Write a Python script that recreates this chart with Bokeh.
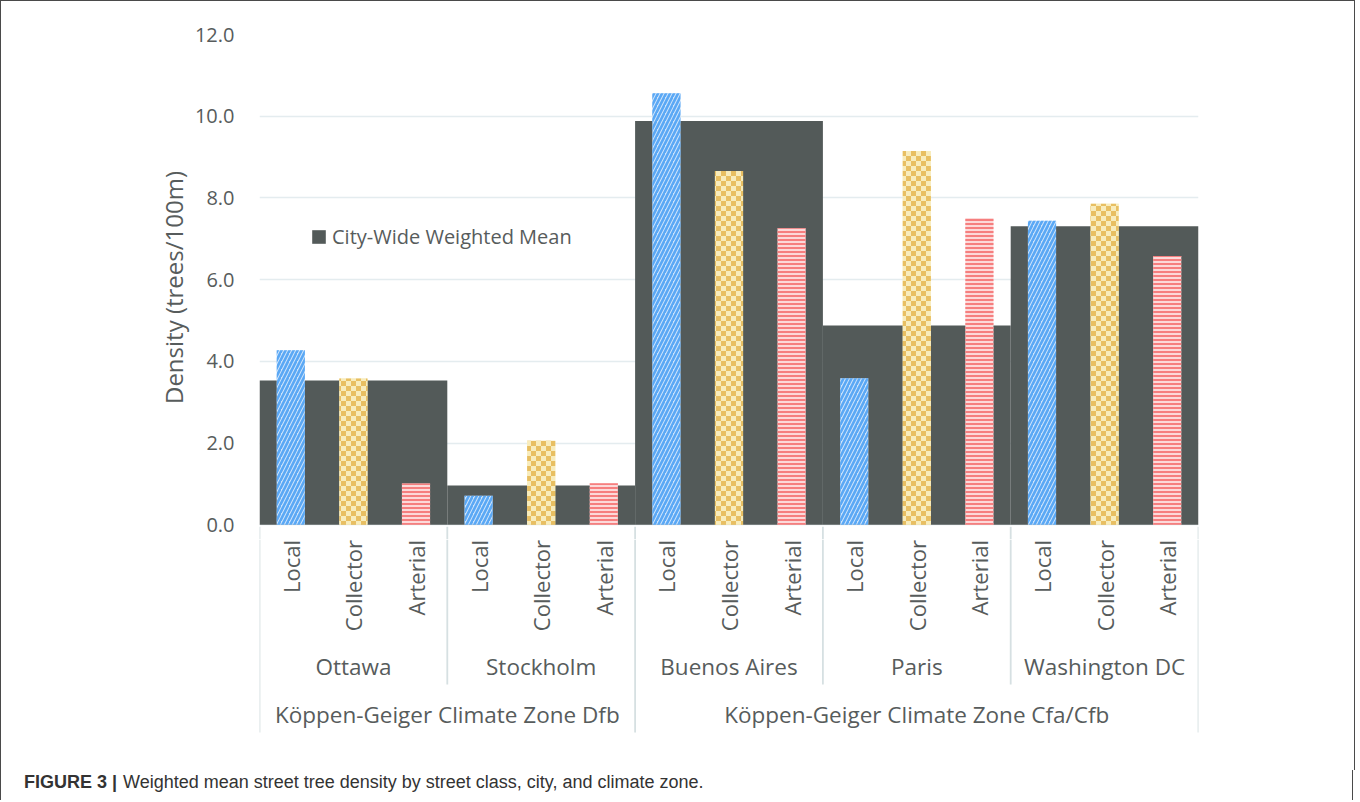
from math import pi
import zlib, struct, base64
from bokeh.plotting import figure
from bokeh.layouts import column
from bokeh.models import (Range1d, FixedTicker, PrintfTickFormatter, Legend, LegendItem,
                          ImageURLTexture, ColumnDataSource, Div)
from bokeh.core.properties import value
from bokeh.embed import file_html
from bokeh.resources import INLINE

# ---------------- data ----------------
zones = ["Köppen-Geiger Climate Zone Dfb", "Köppen-Geiger Climate Zone Cfa/Cfb"]
zone_city_counts = [2, 3]
cities = ["Ottawa", "Stockholm", "Buenos Aires", "Paris", "Washington DC"]
classes = ["Local", "Collector", "Arterial"]
city_mean = [3.53, 0.96, 9.88, 4.88, 7.31]
local = [4.27, 0.71, 10.56, 3.59, 7.44]
collector = [3.58, 2.06, 8.66, 9.15, 7.86]
arterial = [1.01, 1.02, 7.26, 7.51, 6.58]
y_ticks = [0, 2, 4, 6, 8, 10, 12]
legend_label = "City-Wide Weighted Mean"
y_label = "Density (trees/100m)"
caption_bold = "FIGURE 3 |"
caption_text = "Weighted mean street tree density by street class, city, and climate zone."

# ---------------- layout constants ----------------
FONT = "Open Sans"
TXT = "#575c5c"
SEP = "#d6e0e2"
CANVAS_W = 1353
LEFT, FRAME_W = 258, 937
RIGHT = CANVAS_W - LEFT - FRAME_W
TOP, FRAME_H1 = 33, 505
Y_MAX = 12
PX_PER_UNIT = 40.78
Y_MIN = Y_MAX - FRAME_H1 / PX_PER_UNIT
n_cls = len(classes)
n_cat = len(cities) * n_cls
BORDER = "1.5px solid #4a4a4a"

city_x = [c * n_cls + n_cls / 2 for c in range(len(cities))]
city_edges = [c * n_cls for c in range(len(cities) + 1)]
zone_x, zone_edges, acc = [], [0], 0
for cnt in zone_city_counts:
    zone_x.append((acc + cnt / 2) * n_cls)
    acc += cnt
    zone_edges.append(acc * n_cls)
city_only = [e for e in city_edges if e not in zone_edges]


# ---------------- checkerboard texture (style only) ----------------
def checker_png(cell, c_dark, c_light):
    size = 2 * cell
    rows = []
    for yy in range(size):
        row = b""
        for xx in range(size):
            row += bytes(c_dark if ((xx // cell) + (yy // cell)) % 2 == 0 else c_light)
        rows.append(b"\x00" + row)
    raw = b"".join(rows)

    def chunk(t, d):
        return struct.pack(">I", len(d)) + t + d + struct.pack(">I", zlib.crc32(t + d) & 0xffffffff)
    png = (b"\x89PNG\r\n\x1a\n" + chunk(b"IHDR", struct.pack(">IIBBBBB", size, size, 8, 2, 0, 0, 0))
           + chunk(b"IDAT", zlib.compress(raw)) + chunk(b"IEND", b""))
    return "data:image/png;base64," + base64.b64encode(png).decode()


checker = ImageURLTexture(url=checker_png(5, (232, 191, 98), (248, 236, 188)))

# ================= top figure: bars =================
p = figure(frame_width=FRAME_W, frame_height=FRAME_H1,
           x_range=Range1d(0, n_cat), y_range=Range1d(Y_MIN, Y_MAX),
           min_border_left=LEFT, min_border_right=RIGHT,
           min_border_top=TOP, min_border_bottom=0,
           output_backend="svg", toolbar_location=None, x_axis_location=None)
p.outline_line_color = None
p.xgrid.visible = False
p.ygrid.ticker = FixedTicker(ticks=y_ticks)
p.ygrid.grid_line_color = "#e4ecef"
p.ygrid.grid_line_width = 1.5

ya = p.yaxis[0]
ya.ticker = FixedTicker(ticks=y_ticks)
ya.formatter = PrintfTickFormatter(format="%.1f")
ya.axis_line_color = None
ya.major_tick_line_color = None
ya.minor_tick_line_color = None
ya.major_tick_out = 0
ya.major_tick_in = 0
ya.major_label_standoff = 25
ya.major_label_text_font = FONT
ya.major_label_text_font_size = "20px"
ya.major_label_text_color = TXT
ya.axis_label = y_label
ya.axis_label_standoff = 2
ya.axis_label_text_font = FONT
ya.axis_label_text_font_size = "24px"
ya.axis_label_text_font_style = "normal"
ya.axis_label_text_color = TXT

mean_src = ColumnDataSource(dict(x=city_x, top=city_mean))
dark = p.vbar(x="x", top="top", width=n_cls, bottom=0, source=mean_src,
              fill_color="#535a59", line_color=None)

BW = 0.45
for k, (vals, fill, hcol, pat, sc, wt) in enumerate([
        (local, "#cfe4fa", "#5aa8f5", "/", 8, 2.6),
        (collector, "#f8ecbc", "#e8bf62", "checker", 10, 1),
        (arterial, "#fcd9d9", "#f67f7f", "-", 4, 2.0)]):
    xs = [c * n_cls + k + 0.5 for c in range(len(cities))]
    src = ColumnDataSource(dict(x=xs, top=vals))
    kw = {}
    if pat == "checker":
        kw["hatch_extra"] = {"checker": checker}
    p.vbar(x="x", top="top", width=BW, bottom=0, source=src,
           fill_color=fill, line_color=None,
           hatch_pattern=value(pat), hatch_color=hcol, hatch_scale=sc, hatch_weight=wt, **kw)

# top parts of the separators (just under the zero line)
p.segment(x0=city_edges, x1=city_edges, y0=[-2 / PX_PER_UNIT] * len(city_edges),
          y1=[Y_MIN] * len(city_edges), line_color=SEP, line_width=1.8)

legend = Legend(items=[LegendItem(label=legend_label, renderers=[dark])],
                location=(51, 290), padding=0, margin=0, spacing=0,
                glyph_width=17, glyph_height=17, label_standoff=5,
                label_text_font=FONT, label_text_font_size="20px",
                label_text_color=TXT, border_line_color=None,
                background_fill_alpha=0)
p.add_layout(legend)
p.styles = {"border-left": BORDER, "border-top": BORDER, "border-right": BORDER,
            "box-sizing": "border-box"}

# ================= bottom figure: category labels =================
H2 = 231
q = figure(frame_width=FRAME_W, frame_height=H2,
           x_range=Range1d(0, n_cat), y_range=Range1d(H2, 0),
           min_border_left=LEFT, min_border_right=RIGHT, min_border_top=0, min_border_bottom=0,
           output_backend="svg", toolbar_location=None,
           x_axis_location=None, y_axis_location=None)
q.outline_line_color = None
q.grid.visible = False

cls_x = [i + 0.5 for i in range(n_cat)]
cls_t = [classes[i % n_cls] for i in range(n_cat)]
q.text(x=cls_x, y=[0.5] * n_cat, text=cls_t, angle=pi / 2, text_align="right",
       text_baseline="middle", text_font=value(FONT),
       text_font_size="22px", text_color=TXT)
q.text(x=city_x, y=[127] * len(cities), text=cities, text_align="center",
       text_baseline="middle", text_font=value(FONT),
       text_font_size="22.5px", text_color=TXT)
q.text(x=zone_x, y=[175] * len(zones), text=zones, text_align="center",
       text_baseline="middle", text_font=value(FONT),
       text_font_size="22.5px", text_color=TXT)

q.segment(x0=city_only, x1=city_only, y0=[0] * len(city_only),
          y1=[145] * len(city_only), line_color=SEP, line_width=1.8)
q.segment(x0=zone_edges, x1=zone_edges, y0=[0] * len(zone_edges),
          y1=[193] * len(zone_edges), line_color=SEP, line_width=1.8)
q.styles = {"border-left": BORDER, "border-right": BORDER, "box-sizing": "border-box"}

# ================= caption =================
cap = Div(text=f'<span style="display:inline-block;width:99px;font-weight:bold">{caption_bold}</span>'
               f'<span>{caption_text}</span>',
          width=CANVAS_W, height=30, margin=0,
          styles={"padding-left": "23px", "font-family": "'Liberation Sans', Arial, sans-serif",
                  "font-size": "18px", "line-height": "24px", "color": "#333333",
                  "border-left": BORDER, "border-right": BORDER, "box-sizing": "border-box",
                  "white-space": "nowrap"})

layout = column(p, q, cap, spacing=0)
open("out.html", "w").write(file_html(layout, INLINE))
